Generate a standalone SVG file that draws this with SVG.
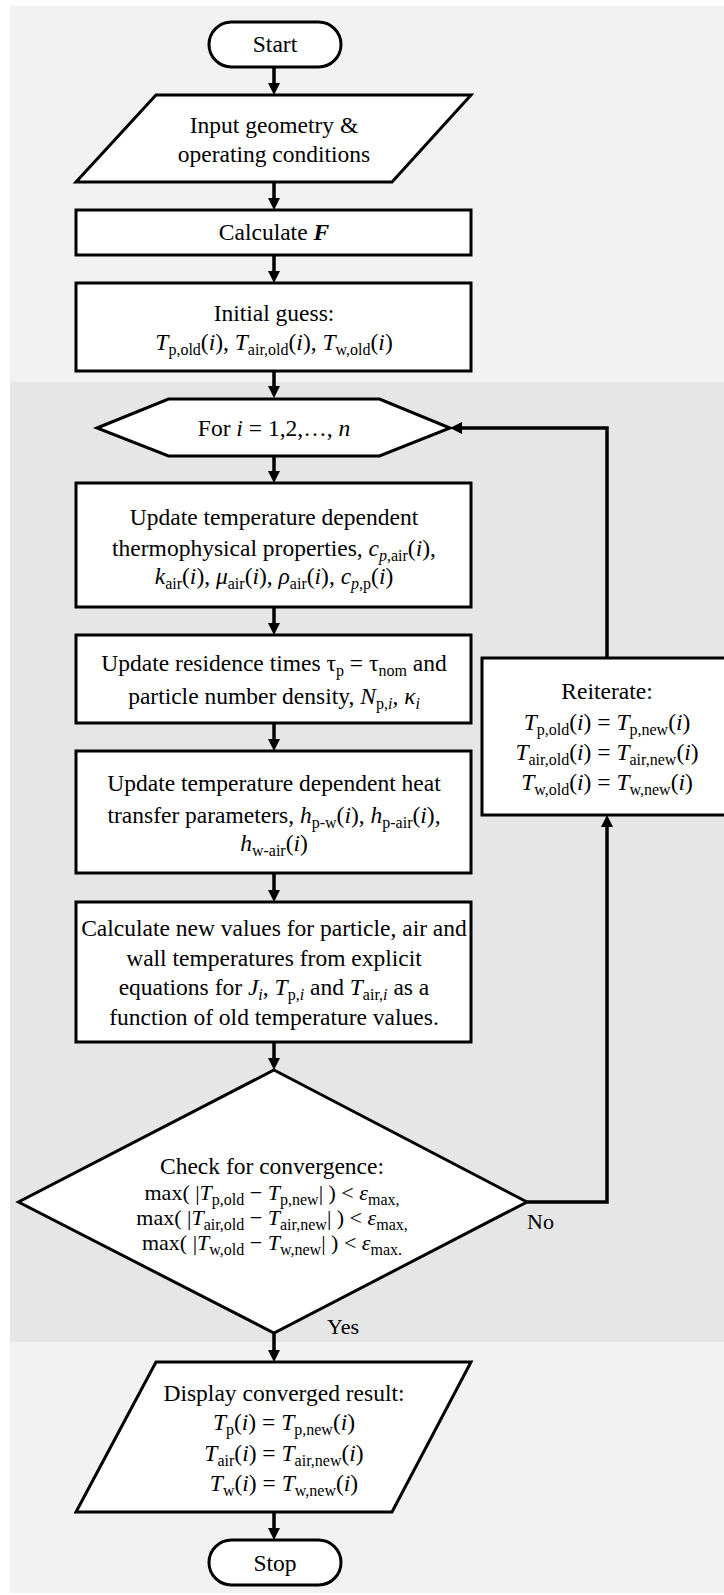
<svg xmlns="http://www.w3.org/2000/svg" width="724" height="1595" viewBox="0 0 724 1595">
  <style>
    .shape { fill: #ffffff; stroke: #000000; stroke-width: 3; stroke-linejoin: miter; }
    .link { fill: none; stroke: #000000; stroke-width: 3.5; }
    .t { font-family: "Liberation Serif", "Times New Roman", serif; font-size: 23.5px; fill: #000000; text-anchor: middle; }
    .m { font-size: 22px; }
    .s { font-size: 16px; font-style: normal; }
    .si { font-size: 16px; font-style: italic; }
    .i { font-style: italic; }
    .b { font-weight: bold; }
    .lbl { font-family: "Liberation Serif", "Times New Roman", serif; font-size: 22px; fill: #000000; }
  </style>
  <defs>
    <marker id="arrow" markerUnits="userSpaceOnUse" markerWidth="12" markerHeight="12" refX="0" refY="6" orient="auto">
      <path d="M0,0 L12,6 L0,12 Z" fill="#000000"/>
    </marker>
  </defs>

  <!-- backdrop: outer panel and the iteration band -->
  <rect x="10" y="6" width="714" height="1587" fill="#f2f2f2"/>
  <rect x="10" y="382" width="714" height="960" fill="#e6e6e6"/>

  <!-- connectors -->
  <g id="connectors">
    <path class="link" d="M274,67 V83" marker-end="url(#arrow)"/>
    <path class="link" d="M274,182 V198" marker-end="url(#arrow)"/>
    <path class="link" d="M274,255 V271" marker-end="url(#arrow)"/>
    <path class="link" d="M274,371 V386" marker-end="url(#arrow)"/>
    <path class="link" d="M274,456 V471" marker-end="url(#arrow)"/>
    <path class="link" d="M274,607 V623" marker-end="url(#arrow)"/>
    <path class="link" d="M274,723 V739" marker-end="url(#arrow)"/>
    <path class="link" d="M274,873 V890" marker-end="url(#arrow)"/>
    <path class="link" d="M274,1042 V1058" marker-end="url(#arrow)"/>
    <path class="link" d="M274,1333 V1350" marker-end="url(#arrow)"/>
    <path class="link" d="M274,1512 V1528" marker-end="url(#arrow)"/>
    <!-- "No" branch up to the reiterate box -->
    <path class="link" d="M527,1202 H607 V827" marker-end="url(#arrow)"/>
    <!-- back to the loop header -->
    <path class="link" d="M607,658 V428 H462" marker-end="url(#arrow)"/>
    <text class="lbl" x="527" y="1229">No</text>
    <text class="lbl" x="327" y="1334">Yes</text>
  </g>

  <g id="start">
    <rect class="shape" x="209" y="22" width="132" height="45" rx="22.5" ry="22.5"/>
    <text class="t" x="275" y="52">Start</text>
  </g>

  <g id="input">
    <polygon class="shape" points="156,95 471,95 392,182 76,182"/>
    <text class="t" x="274" y="133">Input geometry &amp;</text>
    <text class="t" x="274" y="162">operating conditions</text>
  </g>

  <g id="calc-f">
    <rect class="shape" x="76" y="210" width="395" height="45"/>
    <text class="t" x="274" y="240">Calculate <tspan class="i b">F</tspan></text>
  </g>

  <g id="initial-guess">
    <rect class="shape" x="76" y="283" width="395" height="88"/>
    <text class="t" x="274" y="321">Initial guess:</text>
    <text class="t" x="274" y="350"><tspan class="i">T</tspan><tspan class="s" dy="5">p,old</tspan><tspan dy="-5">(</tspan><tspan class="i">i</tspan>), <tspan class="i">T</tspan><tspan class="s" dy="5">air,old</tspan><tspan dy="-5">(</tspan><tspan class="i">i</tspan>), <tspan class="i">T</tspan><tspan class="s" dy="5">w,old</tspan><tspan dy="-5">(</tspan><tspan class="i">i</tspan>)</text>
  </g>

  <g id="loop">
    <polygon class="shape" points="97,428 168.5,399 379.5,399 450,428 379.5,456 168.5,456"/>
    <text class="t" x="274" y="436">For <tspan class="i">i</tspan> = 1,2,…, <tspan class="i">n</tspan></text>
  </g>

  <g id="properties">
    <rect class="shape" x="76" y="483" width="395" height="124"/>
    <text class="t" x="274" y="525">Update temperature dependent</text>
    <text class="t" x="274" y="556">thermophysical properties, <tspan class="i">c</tspan><tspan class="s" dy="5"><tspan class="i">p</tspan>,air</tspan><tspan dy="-5">(</tspan><tspan class="i">i</tspan>),</text>
    <text class="t" x="274" y="584"><tspan class="i">k</tspan><tspan class="s" dy="5">air</tspan><tspan dy="-5">(</tspan><tspan class="i">i</tspan>), <tspan class="i">μ</tspan><tspan class="s" dy="5">air</tspan><tspan dy="-5">(</tspan><tspan class="i">i</tspan>), <tspan class="i">ρ</tspan><tspan class="s" dy="5">air</tspan><tspan dy="-5">(</tspan><tspan class="i">i</tspan>), <tspan class="i">c</tspan><tspan class="s" dy="5"><tspan class="i">p</tspan>,p</tspan><tspan dy="-5">(</tspan><tspan class="i">i</tspan>)</text>
  </g>

  <g id="residence">
    <rect class="shape" x="76" y="635" width="395" height="88"/>
    <text class="t" x="274" y="671">Update residence times τ<tspan class="s" dy="5">p</tspan><tspan dy="-5"> = τ</tspan><tspan class="s" dy="5">nom</tspan><tspan dy="-5"> and</tspan></text>
    <text class="t" x="274" y="704">particle number density, <tspan class="i">N</tspan><tspan class="s" dy="5">p,<tspan class="i">i</tspan></tspan><tspan dy="-5">, </tspan><tspan class="i">κ</tspan><tspan class="si" dy="5">i</tspan></text>
  </g>

  <g id="heat-transfer">
    <rect class="shape" x="76" y="751" width="395" height="122"/>
    <text class="t" x="274" y="791">Update temperature dependent heat</text>
    <text class="t" x="274" y="823">transfer parameters, <tspan class="i">h</tspan><tspan class="s" dy="5">p-w</tspan><tspan dy="-5">(</tspan><tspan class="i">i</tspan>), <tspan class="i">h</tspan><tspan class="s" dy="5">p-air</tspan><tspan dy="-5">(</tspan><tspan class="i">i</tspan>),</text>
    <text class="t" x="274" y="851"><tspan class="i">h</tspan><tspan class="s" dy="5">w-air</tspan><tspan dy="-5">(</tspan><tspan class="i">i</tspan>)</text>
  </g>

  <g id="new-values">
    <rect class="shape" x="76" y="902" width="395" height="140"/>
    <text class="t" x="274" y="936">Calculate new values for particle, air and</text>
    <text class="t" x="274" y="966">wall temperatures from explicit</text>
    <text class="t" x="274" y="995">equations for <tspan class="i">J</tspan><tspan class="si" dy="5">i</tspan><tspan dy="-5">, </tspan><tspan class="i">T</tspan><tspan class="s" dy="5">p,<tspan class="i">i</tspan></tspan><tspan dy="-5"> and </tspan><tspan class="i">T</tspan><tspan class="s" dy="5">air,<tspan class="i">i</tspan></tspan><tspan dy="-5"> as a</tspan></text>
    <text class="t" x="274" y="1025">function of old temperature values.</text>
  </g>

  <g id="convergence">
    <polygon class="shape" points="274,1070 527,1202 274,1333 18.5,1202"/>
    <text class="t" x="272" y="1174">Check for convergence:</text>
    <text class="t m" x="272" y="1200">max( |<tspan class="i">T</tspan><tspan class="s" dy="5">p,old</tspan><tspan dy="-5"> − </tspan><tspan class="i">T</tspan><tspan class="s" dy="5">p,new</tspan><tspan dy="-5">| ) &lt; </tspan><tspan class="i">ε</tspan><tspan class="s" dy="5">max,</tspan></text>
    <text class="t m" x="272" y="1225">max( |<tspan class="i">T</tspan><tspan class="s" dy="5">air,old</tspan><tspan dy="-5"> − </tspan><tspan class="i">T</tspan><tspan class="s" dy="5">air,new</tspan><tspan dy="-5">| ) &lt; </tspan><tspan class="i">ε</tspan><tspan class="s" dy="5">max,</tspan></text>
    <text class="t m" x="272" y="1250">max( |<tspan class="i">T</tspan><tspan class="s" dy="5">w,old</tspan><tspan dy="-5"> − </tspan><tspan class="i">T</tspan><tspan class="s" dy="5">w,new</tspan><tspan dy="-5">| ) &lt; </tspan><tspan class="i">ε</tspan><tspan class="s" dy="5">max.</tspan></text>
  </g>

  <g id="reiterate">
    <rect class="shape" x="482" y="658" width="260" height="157"/>
    <text class="t" x="607" y="699">Reiterate:</text>
    <text class="t" x="607" y="730"><tspan class="i">T</tspan><tspan class="s" dy="5">p,old</tspan><tspan dy="-5">(</tspan><tspan class="i">i</tspan>) = <tspan class="i">T</tspan><tspan class="s" dy="5">p,new</tspan><tspan dy="-5">(</tspan><tspan class="i">i</tspan>)</text>
    <text class="t" x="607" y="760"><tspan class="i">T</tspan><tspan class="s" dy="5">air,old</tspan><tspan dy="-5">(</tspan><tspan class="i">i</tspan>) = <tspan class="i">T</tspan><tspan class="s" dy="5">air,new</tspan><tspan dy="-5">(</tspan><tspan class="i">i</tspan>)</text>
    <text class="t" x="607" y="790"><tspan class="i">T</tspan><tspan class="s" dy="5">w,old</tspan><tspan dy="-5">(</tspan><tspan class="i">i</tspan>) = <tspan class="i">T</tspan><tspan class="s" dy="5">w,new</tspan><tspan dy="-5">(</tspan><tspan class="i">i</tspan>)</text>
  </g>

  <g id="display">
    <polygon class="shape" points="156,1362 471,1362 392,1512 76,1512"/>
    <text class="t" x="284" y="1401">Display converged result:</text>
    <text class="t" x="284" y="1430"><tspan class="i">T</tspan><tspan class="s" dy="5">p</tspan><tspan dy="-5">(</tspan><tspan class="i">i</tspan>) = <tspan class="i">T</tspan><tspan class="s" dy="5">p,new</tspan><tspan dy="-5">(</tspan><tspan class="i">i</tspan>)</text>
    <text class="t" x="284" y="1461"><tspan class="i">T</tspan><tspan class="s" dy="5">air</tspan><tspan dy="-5">(</tspan><tspan class="i">i</tspan>) = <tspan class="i">T</tspan><tspan class="s" dy="5">air,new</tspan><tspan dy="-5">(</tspan><tspan class="i">i</tspan>)</text>
    <text class="t" x="284" y="1491"><tspan class="i">T</tspan><tspan class="s" dy="5">w</tspan><tspan dy="-5">(</tspan><tspan class="i">i</tspan>) = <tspan class="i">T</tspan><tspan class="s" dy="5">w,new</tspan><tspan dy="-5">(</tspan><tspan class="i">i</tspan>)</text>
  </g>

  <g id="stop">
    <rect class="shape" x="209" y="1540" width="132" height="45" rx="22.5" ry="22.5"/>
    <text class="t" x="275" y="1571">Stop</text>
  </g>
</svg>
